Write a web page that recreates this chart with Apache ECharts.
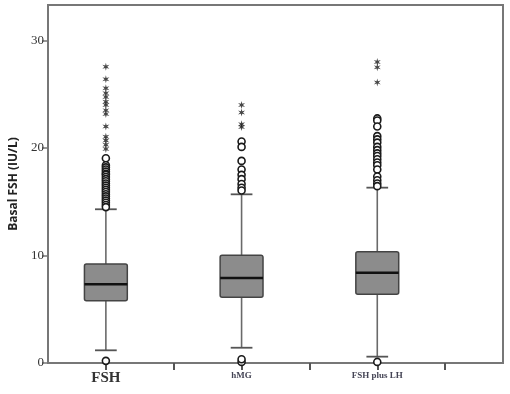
<!DOCTYPE html>
<html>
<head>
<meta charset="utf-8">
<script src="https://cdn.jsdelivr.net/npm/echarts@6/dist/echarts.min.js"></script>
<style>
  html, body { margin: 0; padding: 0; background: #fff; }
  #chart { width: 510px; height: 394px; }
</style>
</head>
<body>
<div id="chart"></div>
<script>
// groups and box summaries
const groups = ['FSH', 'hMG', 'FSH plus LH']
const groupPos = [1, 2, 3]
const whiskerLow = [1.18, 1.42, 0.59]
const q1 = [5.80, 6.11, 6.39]
const median = [7.32, 7.91, 8.40]
const q3 = [9.21, 10.02, 10.35]
const whiskerHigh = [14.3, 15.69, 16.31]

// outliers (circles) and extremes (stars)
const fshCircles = [0.2, 19.04, 18.4, 18.2, 18.0, 17.8, 17.6, 17.5, 17.3, 17.1, 16.9, 16.7, 16.5, 16.3, 16.1, 15.9, 15.7, 15.5, 15.3, 15.1, 14.9, 14.7, 14.5]
const fshStars = [27.56, 26.4, 25.55, 25.1, 24.75, 24.3, 24.0, 23.5, 23.15, 22.0, 21.05, 20.7, 20.3, 19.9]
const hmgCircles = [0.1, 0.35, 20.6, 20.1, 18.8, 18.0, 17.5, 17.1, 16.65, 16.3, 16.05]
const hmgStars = [24.0, 23.3, 22.2, 21.95]
const lhCircles = [0.1, 22.75, 22.55, 22.0, 21.1, 20.8, 20.5, 20.1, 19.8, 19.5, 19.25, 18.95, 18.65, 18.4, 18.0, 17.35, 17.0, 16.7, 16.45]
const lhStars = [28.0, 27.5, 26.1]

const yTicks = [0, 10, 20, 30]
const xTicks = [1, 1.5, 2, 2.5, 3, 3.5]

const starPath = 'path://M10 0 L11.75 6.97 L18.66 5 L13.5 10 L18.66 15 L11.75 13.03 L10 20 L8.25 13.03 L1.34 15 L6.5 10 L1.34 5 L8.25 6.97 Z'

const boxData = groupPos.map((x, i) => [x, whiskerLow[i], q1[i], median[i], q3[i], whiskerHigh[i]])

const toPoints = (x, vals) => vals.map(v => [x, v])
const circleData = [].concat(toPoints(1, fshCircles), toPoints(2, hmgCircles), toPoints(3, lhCircles))
const starData = [].concat(toPoints(1, fshStars), toPoints(2, hmgStars), toPoints(3, lhStars))

const frameColor = '#777'

const renderBox = (params, api) => {
  const x = api.value(0)
  const low = api.coord([x, api.value(1)])
  const b1 = api.coord([x, api.value(2)])
  const med = api.coord([x, api.value(3)])
  const b3 = api.coord([x, api.value(4)])
  const high = api.coord([x, api.value(5)])
  const boxW = api.size([0.316, 0])[0]
  const capW = api.size([0.16, 0])[0]
  const cx = low[0]
  return {
    type: 'group',
    children: [
      { type: 'line', shape: { x1: cx, y1: b1[1], x2: cx, y2: low[1] }, style: { stroke: '#6a6a6a', lineWidth: 1.6 } },
      { type: 'line', shape: { x1: cx, y1: b3[1], x2: cx, y2: high[1] }, style: { stroke: '#6a6a6a', lineWidth: 1.6 } },
      { type: 'line', shape: { x1: cx - capW / 2, y1: low[1], x2: cx + capW / 2, y2: low[1] }, style: { stroke: '#555', lineWidth: 1.8 } },
      { type: 'line', shape: { x1: cx - capW / 2, y1: high[1], x2: cx + capW / 2, y2: high[1] }, style: { stroke: '#555', lineWidth: 1.8 } },
      { type: 'rect', shape: { x: cx - boxW / 2, y: b3[1], width: boxW, height: b1[1] - b3[1], r: 2 }, style: { fill: '#8c8c8c', stroke: '#444', lineWidth: 1.5 } },
      { type: 'line', shape: { x1: cx - boxW / 2, y1: med[1], x2: cx + boxW / 2, y2: med[1] }, style: { stroke: '#111', lineWidth: 2.5 } }
    ]
  }
}

const chart = echarts.init(document.getElementById('chart'))

chart.setOption({
  animation: false,
  backgroundColor: '#fff',
  grid: {
    left: 47, right: 7, top: 5, bottom: 31,
    show: true, borderColor: frameColor, borderWidth: 2
  },
  xAxis: {
    type: 'value',
    min: 1 - 58 / 136,
    max: 3 + 126 / 136,
    splitLine: { show: false },
    axisLine: { lineStyle: { color: frameColor, width: 2 } },
    axisTick: { show: true, length: 7, customValues: xTicks, lineStyle: { color: '#555', width: 2 } },
    axisLabel: {
      customValues: groupPos,
      margin: 8,
      formatter: v => {
        const name = groups[Math.round(v) - 1]
        return Math.round(v) === 1 ? '{big|' + name + '}' : '{small|' + name + '}'
      },
      rich: {
        big: { fontFamily: 'Liberation Serif', fontSize: 15, fontWeight: 'bold', color: '#333' },
        small: { fontFamily: 'Liberation Serif', fontSize: 9, fontWeight: 'bold', color: '#445', padding: [0, 0, 4, 0] }
      }
    }
  },
  yAxis: {
    type: 'value',
    min: 0,
    max: 33.3,
    interval: 10,
    name: 'Basal FSH (IU/L)',
    nameLocation: 'middle',
    nameGap: 28,
    nameTextStyle: { fontFamily: 'Open Sans', fontWeight: 'bold', fontSize: 12, color: '#222' },
    splitLine: { show: false },
    axisLine: { show: true, lineStyle: { color: frameColor, width: 2 } },
    axisTick: { show: true, length: 6, customValues: yTicks, lineStyle: { color: frameColor, width: 1.5 } },
    axisLabel: {
      customValues: yTicks,
      margin: 4,
      fontFamily: 'Liberation Serif',
      fontSize: 13,
      color: '#333'
    }
  },
  series: [
    {
      type: 'custom',
      renderItem: renderBox,
      data: boxData,
      encode: { x: 0, y: [1, 2, 3, 4, 5] },
      z: 2
    },
    {
      type: 'scatter',
      data: circleData,
      symbol: 'circle',
      symbolSize: 7,
      itemStyle: { color: '#fff', borderColor: '#1a1a1a', borderWidth: 1.6, opacity: 1 },
      z: 3
    },
    {
      type: 'scatter',
      data: starData,
      symbol: starPath,
      symbolSize: [7, 8],
      itemStyle: { color: '#1a1a1a' },
      z: 3
    }
  ]
})
</script>
</body>
</html>
